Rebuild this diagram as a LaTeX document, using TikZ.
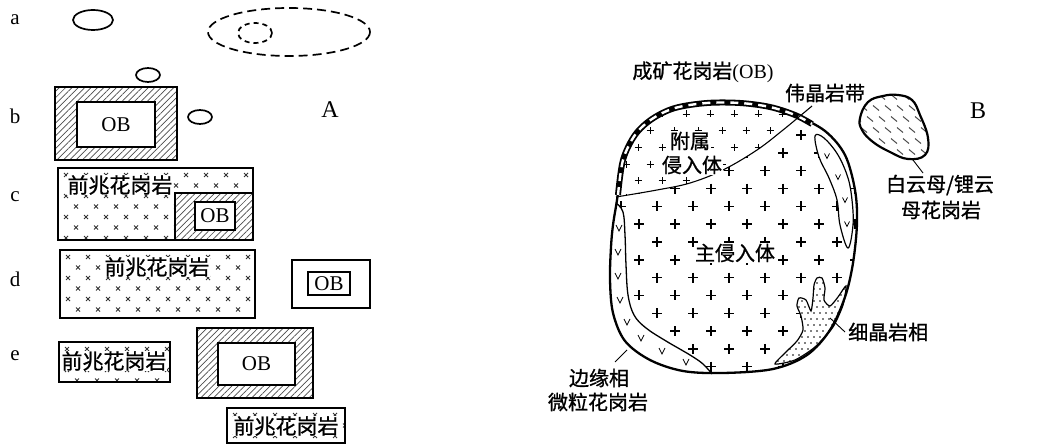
\documentclass[tikz,border=0pt]{standalone}
\usepackage{fontspec}
\setmainfont{Liberation Serif}
\newfontfamily\cjk[FakeBold=1]{Noto Sans CJK SC}
\usetikzlibrary{patterns.meta}
\tikzset{
 cjklbl/.style={font=\cjk\fontsize{20}{22}\selectfont, inner sep=0pt},
 boxtxt/.style={font=\cjk\fontsize{21}{22}\selectfont, inner sep=0.5pt, fill=white},
 rowlbl/.style={font=\fontsize{21}{22}\selectfont, inner sep=0pt},
 biglbl/.style={font=\fontsize{24}{25}\selectfont, inner sep=0pt},
 obbox/.style={draw, line width=2pt, fill=white, inner sep=0pt, font=\fontsize{21}{22}\selectfont},
 thickbox/.style={draw, line width=2.6pt},
 hatch/.style={pattern={Lines[angle=45,distance=4.5pt,line width=0.7pt]}, pattern color=black!70},
 xmark/.style={line width=0.8pt, black!80},
 pmark/.style={line width=1.4pt},
 smallp/.style={line width=0.9pt},
 vmark/.style={line width=0.8pt},
 outline/.style={line width=2.3pt},
 leader/.style={line width=0.9pt},
 ell/.style={line width=1.7pt},
}
\newcommand\mkcross[4]{%
 \begin{scope}
 \clip (#1,#2) rectangle (#3,#4);
 \foreach \j in {0,...,7}{%
  \foreach \i in {0,...,10}{%
   \pgfmathsetmacro\cx{#1+8+20*\i+10*mod(\j,2)}%
   \pgfmathsetmacro\cy{#2+7+10.5*\j}%
   \draw[xmark] (\cx-2,\cy-2) -- (\cx+2,\cy+2) (\cx-2,\cy+2) -- (\cx+2,\cy-2);
  }}
 \end{scope}}
\begin{document}
\begin{tikzpicture}[x=1pt,y=-1pt]
\useasboundingbox (0,0) rectangle (1043,446);
\fill[white] (0,0) rectangle (1043,446);
% ---------------- Part A ----------------
\node[rowlbl] (la) at (15,20) {a};
\node[rowlbl] (lb) at (15,116) {b};
\node[rowlbl] (lc) at (15,197) {c};
\node[rowlbl] (ld) at (15,279) {d};
\node[rowlbl] (le) at (15,356) {e};
\node[biglbl] (lA) at (330,110) {A};
% a
\draw[ell] (93,20) ellipse [x radius=20, y radius=10];
\draw[ell, dash pattern=on 9pt off 5pt] (289,32) ellipse [x radius=81, y radius=24];
\draw[ell, dash pattern=on 5pt off 4pt] (255,33) ellipse [x radius=17, y radius=10];
% b
\draw[ell] (148,75) ellipse [x radius=12, y radius=7];
\draw[ell] (200,117) ellipse [x radius=12, y radius=7];
\fill[hatch] (55,87) rectangle (177,160);
\draw[thickbox] (55,87) rectangle (177,160);
\node[obbox, minimum width=78pt, minimum height=45pt] (obb) at (116,124.5) {OB};
% c
\mkcross{58}{168}{253}{240}
\fill[white] (175,193) rectangle (253,240);
\fill[hatch] (175,193) rectangle (253,240);
\draw[line width=1.8pt] (175,240) -- (175,193) -- (253,193);
\node[obbox, minimum width=40pt, minimum height=28pt] (obc) at (215,216) {OB};
\node[boxtxt] (tc) at (120,185) {前兆花岗岩};
\draw[thickbox] (58,168) rectangle (253,240);
% d
\mkcross{60}{250}{255}{318}
\node[boxtxt] (td) at (157,267) {前兆花岗岩};
\draw[thickbox] (60,250) rectangle (255,318);
\node[draw, line width=2.4pt, minimum width=78pt, minimum height=48pt, inner sep=0pt] (dbox) at (331,284) {};
\node[obbox, minimum width=42pt, minimum height=23pt] (obd) at (329,283.5) {OB};
% e
\mkcross{59}{342}{170}{382}
\node[boxtxt] (te1) at (114,361) {前兆花岗岩};
\draw[thickbox] (59,342) rectangle (170,382);
\fill[hatch] (197,328) rectangle (313,398);
\draw[thickbox] (197,328) rectangle (313,398);
\node[obbox, minimum width=77pt, minimum height=42pt] (obe) at (256.5,364) {OB};
\mkcross{227}{408}{345}{443}
\node[boxtxt] (te3) at (286,426) {前兆花岗岩};
\draw[thickbox] (227,408) rectangle (345,443);
% ---------------- Part B ----------------
\def\mainoutline{plot[smooth cycle, tension=0.55] coordinates {(617,200) (623,160) (635,135) (652,119) (675,108) (707,103) (740,103) (770,107) (795,115) (825,131) (845,155) (855,190) (857,223) (853,263) (845,297) (830,330) (807,355) (773,369) (723,373) (683,371) (650,360) (625,341) (613,313) (610,280) (611,247) (613,225)}}
% main pluses
\begin{scope}
\clip \mainoutline;
\clip (590,197) -- plot[smooth, tension=0.6] coordinates {(616,197) (657,190) (690,183) (723,170) (757,150) (783,130) (800,116) (812,106)} -- (900,100) -- (900,400) -- (590,400) -- cycle;
\foreach \j in {0,...,15}{\foreach \i in {0,...,8}{
 \pgfmathsetmacro\px{603+36*\i+18*(1-mod(\j,2))}
 \pgfmathsetmacro\py{99.6+17.8*\j}
 \draw[pmark] (\px-5,\py) -- (\px+5,\py) (\px,\py-5) -- (\px,\py+5);}}
\end{scope}
% accessory pluses
\begin{scope}
\clip \mainoutline;
\clip (590,197) -- plot[smooth, tension=0.6] coordinates {(616,197) (657,190) (690,183) (723,170) (757,150) (783,130) (800,116) (812,106)} -- (812,80) -- (590,80) -- cycle;
\foreach \j in {0,...,5}{\foreach \i in {0,...,9}{
 \pgfmathsetmacro\px{614+24*\i+12*mod(\j,2)}
 \pgfmathsetmacro\py{114+16.7*\j}
 \draw[smallp] (\px-3.5,\py) -- (\px+3.5,\py) (\px,\py-3.5) -- (\px,\py+3.5);}}
\end{scope}
% left marginal facies
\begin{scope}
\clip \mainoutline;
\fill[white] (590,204) -- plot[smooth, tension=0.6] coordinates {(617,204) (623,212) (625,235) (626,265) (628,295) (634,315) (646,328) (666,341) (690,355) (703,364) (712,374)} -- (712,400) -- (590,400) -- cycle;
\end{scope}
\foreach \vx/\vy in {619/228, 618/252, 618/276, 620/300, 627/322, 641/338, 662/351, 686/362}
 \draw[vmark] (\vx-3,\vy-3) -- (\vx,\vy+3) -- (\vx+3,\vy-3);
\draw[line width=1.3pt] plot[smooth, tension=0.6] coordinates {(616,203) (623,212) (625,235) (626,265) (628,295) (634,315) (646,328) (666,341) (690,355) (703,364) (712,374)};
% right marginal lens
\fill[white] plot[smooth cycle, tension=0.6] coordinates {(815,136) (819,157) (829,178) (837,200) (840,225) (848,248) (853,225) (852,200) (848,178) (838,155) (824,138)};
\foreach \vx/\vy in {827/156, 838/177, 845/200, 847/224}
 \draw[vmark] (\vx-2.5,\vy-2.5) -- (\vx,\vy+2.5) -- (\vx+2.5,\vy-2.5);
\draw[line width=1.2pt] plot[smooth cycle, tension=0.6] coordinates {(815,136) (819,157) (829,178) (837,200) (840,225) (848,248) (853,225) (852,200) (848,178) (838,155) (824,138)};
% aplite facies
\fill[white] plot[smooth cycle, tension=0.4] coordinates {(775,364) (786,352) (797,341) (803,330) (801,316) (797,306) (799,298) (806,300) (811,311) (813,298) (814,285) (817,278) (822,278) (825,288) (824,300) (830,306) (838,297) (846,286) (843,305) (833,327) (815,347) (795,360)};
\begin{scope}
\clip plot[smooth cycle, tension=0.4] coordinates {(775,364) (786,352) (797,341) (803,330) (801,316) (797,306) (799,298) (806,300) (811,311) (813,298) (814,285) (817,278) (822,278) (825,288) (824,300) (830,306) (838,297) (846,286) (843,305) (833,327) (815,347) (795,360)};
\foreach \j in {0,...,15}{\foreach \i in {0,...,13}{
 \pgfmathsetmacro\px{772+6*\i+3*mod(\j,2)}
 \pgfmathsetmacro\py{277+6*\j}
 \fill (\px,\py) circle [radius=0.9];}}
\end{scope}
\draw[line width=1.2pt] plot[smooth cycle, tension=0.4] coordinates {(775,364) (786,352) (797,341) (803,330) (801,316) (797,306) (799,298) (806,300) (811,311) (813,298) (814,285) (817,278) (822,278) (825,288) (824,300) (830,306) (838,297) (846,286) (843,305) (833,327) (815,347) (795,360)};
% outline
\draw[outline] \mainoutline;
% pegmatite band
\draw[line width=6pt] plot[smooth, tension=0.55] coordinates {(618,195) (623,160) (635,135) (652,119) (675,108) (707,103) (740,103) (770,107) (795,115) (812,124)};
\draw[white, line width=2.4pt, dash pattern=on 8pt off 6pt] plot[smooth, tension=0.55] coordinates {(618,195) (623,160) (635,135) (652,119) (675,108) (707,103) (740,103) (770,107) (795,115) (812,124)};
% accessory boundary (continues as leader to the pegmatite label)
\draw[line width=1.1pt] plot[smooth, tension=0.6] coordinates {(616,197) (657,190) (690,183) (723,170) (757,150) (783,130) (800,116) (812,106)};
% lepidolite granite body
\begin{scope}
\clip plot[smooth cycle, tension=0.7] coordinates {(860,118) (868,102) (883,96) (898,95) (912,100) (920,115) (928,138) (925,155) (908,159) (890,152) (873,142) (862,130)};
\foreach \j in {0,...,6}{\foreach \i in {0,...,6}{
 \pgfmathsetmacro\px{858+12*\i+6*mod(\j,2)}
 \pgfmathsetmacro\py{97+11*\j}
 \draw[line width=1pt, black!70] (\px-3,\py-2.5) -- (\px+3,\py+2.5);}}
\end{scope}
\draw[line width=2.2pt] plot[smooth cycle, tension=0.7] coordinates {(860,118) (868,102) (883,96) (898,95) (912,100) (920,115) (928,138) (925,155) (908,159) (890,152) (873,142) (862,130)};
% labels
\node[font=\fontsize{20}{22}\selectfont, inner sep=0pt] (tob) at (703,72) {{\cjk 成矿花岗岩}(OB)};
\node[cjklbl] (tpeg) at (825,93) {伟晶岩带};
\node[biglbl] (lB) at (978,111) {B};
\node[cjklbl, fill=white, inner sep=0.5pt] (tacc1) at (690,141) {附属};
\node[cjklbl, fill=white, inner sep=0.5pt] (tacc2) at (692,165) {侵入体};
\node[cjklbl, fill=white, inner sep=0.5pt] (tmain) at (735,253) {主侵入体};
\node[cjklbl, anchor=west] (tapl) at (848,332) {细晶岩相};
\coordinate (apl) at (830,318);
\draw[leader] (apl) -- ([xshift=-3pt]tapl.west);
\node[cjklbl] (tlep1) at (940,185) {白云母/锂云};
\node[cjklbl] (tlep2) at (941,210) {母花岗岩};
\coordinate (lep) at (913,160);
\coordinate (lepend) at (923,173);
\draw[leader] (lep) -- (lepend);
\node[cjklbl] (tmrg1) at (599,378) {边缘相};
\node[cjklbl] (tmrg2) at (598,402) {微粒花岗岩};
\coordinate (mrg) at (627,350);
\coordinate (mrgend) at (615,362);
\draw[leader] (mrg) -- (mrgend);
\end{tikzpicture}
\end{document}
